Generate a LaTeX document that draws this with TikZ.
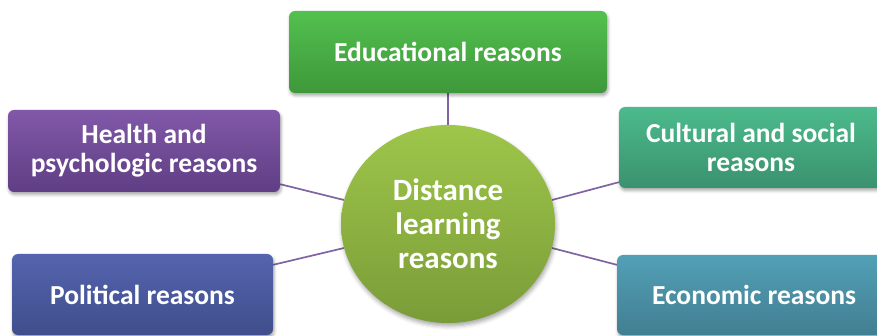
\documentclass[tikz,border=0pt]{standalone}
\usepackage{fontspec}
\setmainfont{Carlito}
\usetikzlibrary{shapes.geometric,shadows.blur,backgrounds}
\definecolor{eduT}{RGB}{82,193,78}
\definecolor{eduB}{RGB}{62,152,58}
\definecolor{heaT}{RGB}{128,88,168}
\definecolor{heaB}{RGB}{96,62,132}
\definecolor{polT}{RGB}{84,100,174}
\definecolor{polB}{RGB}{64,78,140}
\definecolor{culT}{RGB}{76,186,140}
\definecolor{culB}{RGB}{58,146,110}
\definecolor{ecoT}{RGB}{82,160,182}
\definecolor{ecoB}{RGB}{66,126,146}
\definecolor{cirT}{RGB}{158,198,74}
\definecolor{cirB}{RGB}{122,156,56}
\definecolor{linkc}{RGB}{128,100,162}
\tikzset{
  rbox/.style={rectangle, rounded corners=6pt, inner sep=0pt, align=center,
    text=white, font=\fontsize{27.5}{29}\selectfont\bfseries,
    blur shadow={shadow xshift=1pt, shadow yshift=-2.5pt, shadow blur radius=3pt, shadow opacity=35}},
  hub/.style={ellipse, inner sep=0pt, align=center, text=white,
    font=\fontsize{31}{34}\selectfont\bfseries,
    minimum width=214pt, minimum height=198pt, top color=cirT, bottom color=cirB,
    blur shadow={shadow xshift=1pt, shadow yshift=-3pt, shadow blur radius=4pt, shadow opacity=35}},
  link/.style={draw=linkc, line width=1.7pt}
}
\begin{document}
\begin{tikzpicture}[x=1pt,y=-1pt]
\useasboundingbox (0,0) rectangle (877,336);
\node[rbox, minimum width=318pt, minimum height=82pt, top color=eduT, bottom color=eduB] (edu) at (448,52) {Educational reasons};
\node[rbox, minimum width=272pt, minimum height=82pt, top color=heaT, bottom color=heaB] (hea) at (144,151) {Health and\\psychologic reasons};
\node[rbox, minimum width=261pt, minimum height=81pt, top color=polT, bottom color=polB] (pol) at (142.5,294.5) {Political reasons};
\node[rbox, minimum width=264pt, minimum height=81pt, top color=culT, bottom color=culB] (cul) at (751,147.5) {Cultural and social\\reasons};
\node[rbox, minimum width=274pt, minimum height=80pt, top color=ecoT, bottom color=ecoB] (eco) at (754,295) {Economic reasons};
\node[hub] (hub) at (448,224) {Distance\\learning\\reasons};
\begin{scope}[on background layer]
\draw[link] (edu.south) -- (hub.north);
\draw[link] ([yshift=8pt]hea.south east) -- (hub.167);
\draw[link] ([yshift=-11pt]pol.north east) -- (hub.193);
\draw[link] ([yshift=6pt]cul.south west) -- (hub.13);
\draw[link] ([yshift=-10pt]eco.north west) -- (hub.347);
\end{scope}
\end{tikzpicture}
\end{document}
